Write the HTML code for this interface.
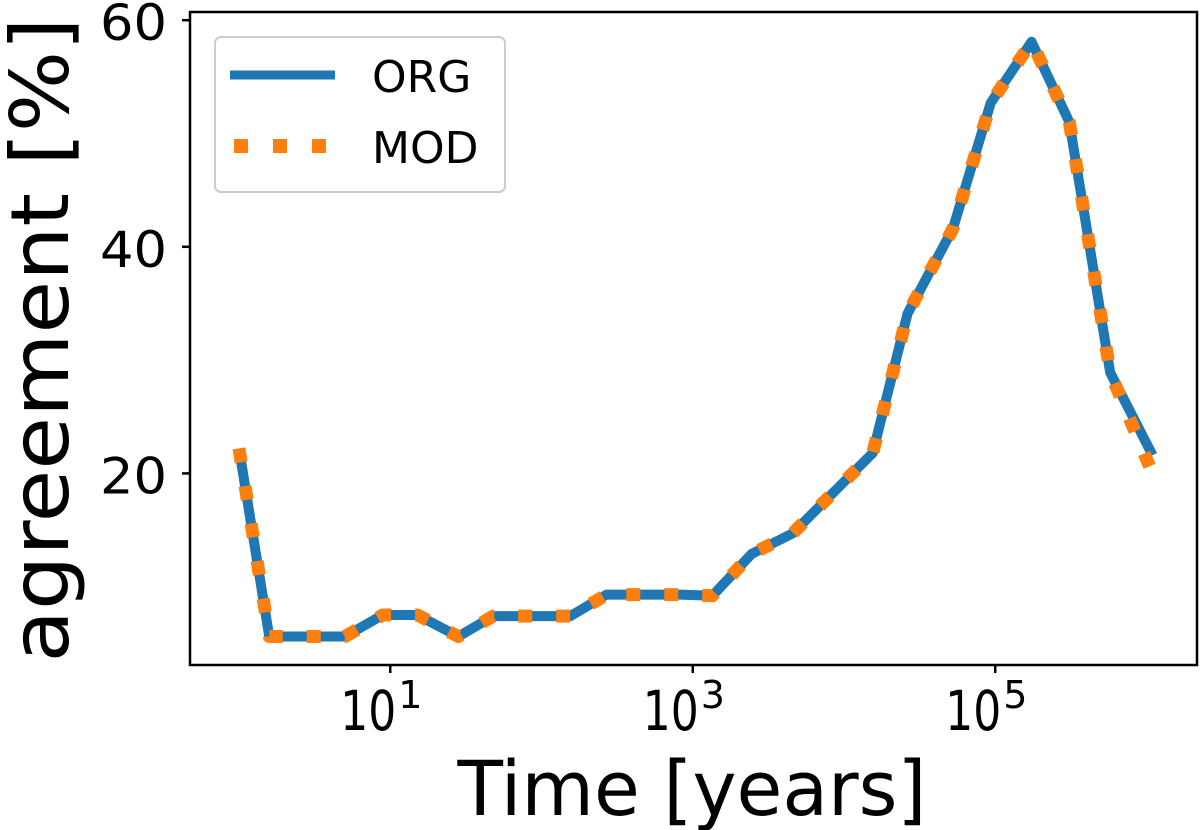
<!DOCTYPE html>
<html><head><meta charset="utf-8"><style>
html,body{margin:0;padding:0;background:#fff;}
svg{display:block;font-family:"DejaVu Sans","Liberation Sans",sans-serif;}
</style></head><body>
<svg id="chart" width="1200" height="830" viewBox="0 0 1200 830">
<rect x="190" y="12" width="1007" height="653" fill="#fff" stroke="#000" stroke-width="2.5"/>
<g id="ticks"></g>
<g id="series"></g>
<text x="68" y="340" font-size="80" text-anchor="middle" textLength="645" lengthAdjust="spacingAndGlyphs" transform="rotate(-90 68 340)">agreement [%]</text>
<text x="692" y="815" font-size="76" text-anchor="middle" textLength="469" lengthAdjust="spacingAndGlyphs">Time [years]</text>
<g>
<rect x="215" y="37" width="290" height="155" rx="6" fill="#fff" stroke="#ccc" stroke-width="2"/>
<line x1="230" y1="75" x2="335" y2="75" stroke="#1f77b4" stroke-width="9"/>
<text x="372" y="92" font-size="44">ORG</text>
<line x1="234" y1="146" x2="335" y2="146" stroke="#ff7f0e" stroke-width="14" stroke-dasharray="14 25"/>
<text x="372" y="163" font-size="44">MOD</text>
</g>
</svg>
<script>
const logTimes = [0, 0.2, 0.7, 0.95, 1.18, 1.45, 1.68, 2.19, 2.43, 2.92, 3.13, 3.39, 3.66, 4.19, 4.42, 4.72, 4.97, 5.24, 5.49, 5.76, 6.04];
const orgValues = [22.2, 5.6, 5.6, 7.5, 7.5, 5.6, 7.4, 7.4, 9.3, 9.3, 9.2, 12.9, 14.7, 21.8, 34.1, 41.6, 52.7, 58.1, 51, 28.9, 21.6];
const modValues = [22.2, 5.6, 5.6, 7.5, 7.5, 5.6, 7.4, 7.4, 9.3, 9.3, 9.2, 12.9, 14.7, 21.8, 34.1, 41.6, 52.7, 58.1, 51, 28.9, 20.0];
const yTicks = [20, 40, 60];
const xTickExps = [1, 3, 5];
const NS = "http://www.w3.org/2000/svg";
function xs(l){ return 239 + l * 151.25; }
function ys(v){ return 700 - v * 11.33; }
const ticks = document.getElementById('ticks');
yTicks.forEach(v => {
  const t = document.createElementNS(NS, 'line');
  t.setAttribute('x1', 182); t.setAttribute('x2', 190); t.setAttribute('y1', ys(v)); t.setAttribute('y2', ys(v));
  t.setAttribute('stroke', '#000'); t.setAttribute('stroke-width', 2.5);
  
  
  ticks.appendChild(t);
  const tx = document.createElementNS(NS, 'text');
  tx.setAttribute('x', 100); tx.setAttribute('y', ys(v) + 20); tx.setAttribute('font-size', 50);
  tx.setAttribute('textLength', 67); tx.setAttribute('lengthAdjust', 'spacingAndGlyphs');
  tx.textContent = v;
  
  
  ticks.appendChild(tx);
});
xTickExps.forEach(e => {
  const x = xs(e);
  const t = document.createElementNS(NS, 'line');
  t.setAttribute('x1', x); t.setAttribute('x2', x); t.setAttribute('y1', 665); t.setAttribute('y2', 673);
  t.setAttribute('stroke', '#000'); t.setAttribute('stroke-width', 2.5);
  
  
  ticks.appendChild(t);
  const tx = document.createElementNS(NS, 'text');
  tx.setAttribute('x', x - 50); tx.setAttribute('y', 730); tx.setAttribute('font-size', 55);
  tx.setAttribute('textLength', 56); tx.setAttribute('lengthAdjust', 'spacingAndGlyphs');
  tx.textContent = '10';
  
  
  ticks.appendChild(tx);
  const sx = document.createElementNS(NS, 'text');
  sx.setAttribute('x', x + 8); sx.setAttribute('y', 708); sx.setAttribute('font-size', 38);
  sx.textContent = e;
  
  
  ticks.appendChild(sx);
});
const series = document.getElementById('series');
function path(vals, color, w, dash, name){
  const p = document.createElementNS(NS, 'polyline');
  p.setAttribute('points', logTimes.map((l,i) => xs(l) + ',' + ys(vals[i])).join(' '));
  p.setAttribute('fill', 'none'); p.setAttribute('stroke', color); p.setAttribute('stroke-width', w);
  p.setAttribute('stroke-linejoin', 'round');
  if (dash) p.setAttribute('stroke-dasharray', dash);
  
  
  series.appendChild(p);
}
path(orgValues, '#1f77b4', 10, null, 'org-line');
path(modValues, '#ff7f0e', 13, '14 24', 'mod-line');
</script>
</body></html>
